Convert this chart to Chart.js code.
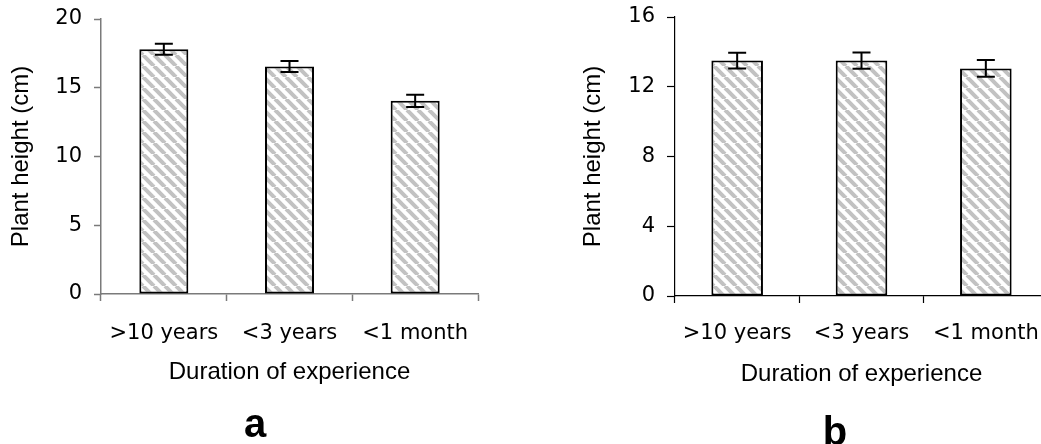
<!DOCTYPE html>
<html>
<head>
<meta charset="utf-8">
<script src="https://cdn.jsdelivr.net/npm/chart.js@4.4.1/dist/chart.umd.min.js"></script>
<style>
  html, body { margin: 0; padding: 0; background: #fff; overflow: hidden; width: 1041px; height: 444px; }
  #panelA { position: absolute; left: 0; top: 0; }
  #panelB { position: absolute; left: 560px; top: 0; }
</style>
</head>
<body>
<canvas id="panelA" width="510" height="444"></canvas>
<canvas id="panelB" width="550" height="452"></canvas>
<script>
// Plant height by duration of experience, two panels (a, b)
const categories = ['>10 years', '<3 years', '<1 month'];

const heightA = [17.8, 16.55, 14.05];
const errorA  = [0.4, 0.4, 0.45];
const yTicksA = [0, 5, 10, 15, 20];

const heightB = [13.5, 13.5, 13.05];
const errorB  = [0.45, 0.47, 0.48];
const yTicksB = [0, 4, 8, 12, 16];

const yTitle = 'Plant height (cm)';
const xTitle = 'Duration of experience';

// diagonal grey hatching used as the bar fill
function hatch() {
  const p = 11;
  const c = document.createElement('canvas');
  c.width = p; c.height = p;
  const g = c.getContext('2d');
  g.fillStyle = '#ffffff';
  g.fillRect(0, 0, p, p);
  g.strokeStyle = '#c2c2c2';
  g.lineWidth = 4;
  for (let k = -1; k <= 1; k++) {
    g.beginPath();
    g.moveTo(k * p, 0);
    g.lineTo(k * p + p, p);
    g.stroke();
  }
  return g.createPattern(c, 'repeat');
}

// whiskers drawn from each bar's value +/- its error
const errorBars = {
  id: 'errorBars',
  afterDatasetsDraw(chart, args, opts) {
    const ctx = chart.ctx;
    const y = chart.scales.y;
    chart.data.datasets.forEach((ds, i) => {
      const meta = chart.getDatasetMeta(i);
      meta.data.forEach((bar, j) => {
        const v = ds.data[j], e = opts.errors[j];
        const top = y.getPixelForValue(v + e);
        const bot = y.getPixelForValue(v - e);
        const half = opts.cap / 2;
        ctx.save();
        ctx.strokeStyle = '#000';
        ctx.lineWidth = 2;
        ctx.beginPath();
        ctx.moveTo(bar.x, top); ctx.lineTo(bar.x, bot);
        ctx.moveTo(bar.x - half, top); ctx.lineTo(bar.x + half, top);
        ctx.moveTo(bar.x - half, bot); ctx.lineTo(bar.x + half, bot);
        ctx.stroke();
        ctx.restore();
      });
    });
  }
};

function makePanel(id, cfg) {
  const canvas = document.getElementById(id);
  const tickFont = { family: 'DejaVu Sans', size: 21 };
  const titleFont = { family: 'Liberation Sans', size: 24 };
  return new Chart(canvas, {
    type: 'bar',
    data: {
      labels: categories,
      datasets: [{
        data: cfg.values,
        backgroundColor: hatch(),
        borderColor: '#000',
        borderWidth: 2,
        borderSkipped: false,
        barPercentage: cfg.barPct,
        categoryPercentage: 1
      }]
    },
    options: {
      responsive: false,
      animation: false,
      devicePixelRatio: 1,
      layout: { padding: cfg.padding },
      plugins: {
        legend: { display: false },
        tooltip: { enabled: false },
        title: {
          display: true,
          text: cfg.letter,
          position: 'bottom',
          color: '#000',
          font: { family: 'Liberation Sans', size: 40, weight: 'bold', lineHeight: 0.9 },
          padding: { top: cfg.letterPadTop, bottom: 0 }
        },
        errorBars: { errors: cfg.errors, cap: 18 }
      },
      scales: {
        x: {
          grid: {
            display: true, drawOnChartArea: false, drawTicks: true,
            tickLength: 7, tickColor: cfg.axisColor, tickWidth: cfg.axisWidth, offset: true
          },
          border: { display: true, color: cfg.axisColor, width: cfg.axisWidth },
          ticks: { color: '#000', font: tickFont, padding: cfg.xTickPad, maxRotation: 0, autoSkip: false },
          title: {
            display: true, text: xTitle, color: '#000', font: titleFont,
            padding: { top: 0, bottom: cfg.xTitlePad }
          },
          afterFit(s) { s.height = cfg.xHeight; }
        },
        y: {
          min: cfg.yTicks[0],
          max: cfg.yTicks[cfg.yTicks.length - 1],
          afterBuildTicks(s) { s.ticks = cfg.yTicks.map(v => ({ value: v })); },
          grid: {
            display: true, drawOnChartArea: false, drawTicks: true,
            tickLength: cfg.yTickLen, tickColor: cfg.axisColor, tickWidth: cfg.axisWidth
          },
          border: { display: true, color: cfg.axisColor, width: cfg.axisWidth },
          ticks: { color: '#000', font: tickFont, padding: 12 },
          title: {
            display: true, text: yTitle, color: '#000', font: titleFont,
            padding: { top: cfg.yTitlePad, bottom: 0 }
          },
          // fixed axis width; the top label may overhang the plot area
          afterFit(s) { s.width = cfg.yWidth; s.paddingTop = 0; s.paddingBottom = 0; }
        }
      }
    },
    plugins: [errorBars]
  });
}

makePanel('panelA', {
  values: heightA, errors: errorA, yTicks: yTicksA, letter: 'a',
  barPct: 0.39,
  padding: { left: 32, top: 19, right: 32, bottom: 0 },
  yWidth: 69, yTitlePad: -25.4, yTickLen: 7,
  xHeight: 111, xTickPad: 19.5, xTitlePad: 18.6,
  letterPadTop: 3,
  axisColor: '#7a7a7a', axisWidth: 1.5
});

makePanel('panelB', {
  values: heightB, errors: errorB, yTicks: yTicksB, letter: 'b',
  barPct: 0.415,
  padding: { left: 62, top: 17, right: 62, bottom: 0 },
  yWidth: 53, yTitlePad: -43.4, yTickLen: 8,
  xHeight: 120, xTickPad: 18, xTitlePad: 27,
  letterPadTop: 0,
  axisColor: '#000', axisWidth: 1.2
});
</script>
</body>
</html>
